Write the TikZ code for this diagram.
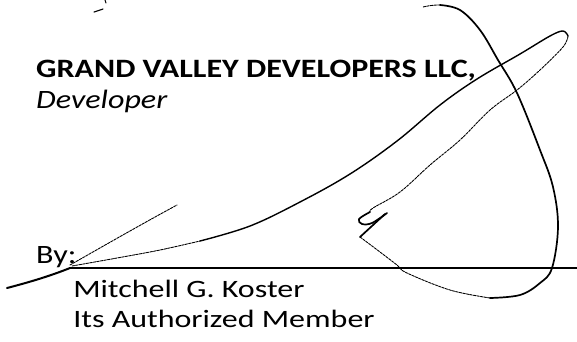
\documentclass[tikz,border=0pt]{standalone}
\usepackage{fontspec}
\setmainfont{Carlito}
\begin{document}
\begin{tikzpicture}[x=1pt,y=-1pt,
  txt/.style={anchor=base west,inner sep=0pt,xscale=1.28,font=\fontsize{25}{30}\selectfont},
  big/.style={anchor=base west,inner sep=0pt,xscale=1.21,font=\fontsize{26.5}{31}\selectfont},
  hdr/.style={big,font=\fontsize{26.5}{31}\selectfont\bfseries},
  ink/.style={line width=1.7pt,line cap=round,line join=round},
  faint/.style={line width=0.9pt,line cap=round,dash pattern=on 2.5pt off 1.1pt},
  rule/.style={line width=1.3pt}]
\useasboundingbox (0,0) rectangle (577,341);
% texts
\node[hdr] (org) at (36,77) {GRAND VALLEY DEVELOPERS LLC,};
\node[big,font=\fontsize{26.5}{31}\selectfont\itshape] (role) at (36,108) {Developer};
\node[big] (by) at (36,263) {By:};
\node[txt] (name) at (73,297) {Mitchell G. Koster};
\node[txt] (title) at (73,327) {Its Authorized Member};
% signature line
\coordinate (ls) at (70,268);
\coordinate (le) at (577,268);
\draw[rule] (ls) -- (le);
% small marks at top
\draw[ink,line width=1.1pt] (94,12) .. controls (97,11) and (100,10) .. (103,9);
\draw[ink,line width=1pt] (105,0) -- (106,3);
% stroke A
\draw[ink,line width=2pt] (7,288) .. controls (30,282) and (50,276) .. (70,268);
% stroke B
\draw[faint] (70,265) .. controls (100,248) and (140,225) .. (177,205);
% main stroke, faint start
\draw[faint] plot[smooth,tension=0.6] coordinates {(72,266) (117,258) (160,250) (200,241)};
\draw[ink,line width=1.4pt] plot[smooth,tension=0.6] coordinates {(200,241) (250,226) (300,202) (350,174) (397,141) (440,105) (477,79) (520,54) (550,36) (563,31) (568,36)};
% return
\draw[faint] plot[smooth,tension=0.6] coordinates {(568,36) (563,47) (540,70) (517,90) (490,110) (460,140) (430,165) (400,192) (373,208) (370,212)};
% glyph
\draw[ink] plot[smooth,tension=0.6] coordinates {(370,212) (359,219) (362,224) (372,223) (387,213)};
\draw[ink] (385,214) -- (360,237);
% loop
\draw[faint] plot[smooth,tension=0.6] coordinates {(360,237) (380,252) (397,265) (407,273) (450,290) (490,298)};
\draw[ink] plot[smooth,tension=0.6] coordinates {(490,298) (520,295) (540,283) (552,268) (558,227) (553,187) (540,150) (517,93) (498,60) (480,30) (460,10) (440,5)};
\draw[faint] (440,5) .. controls (432,5) and (427,6) .. (423,7);
\end{tikzpicture}
\end{document}
